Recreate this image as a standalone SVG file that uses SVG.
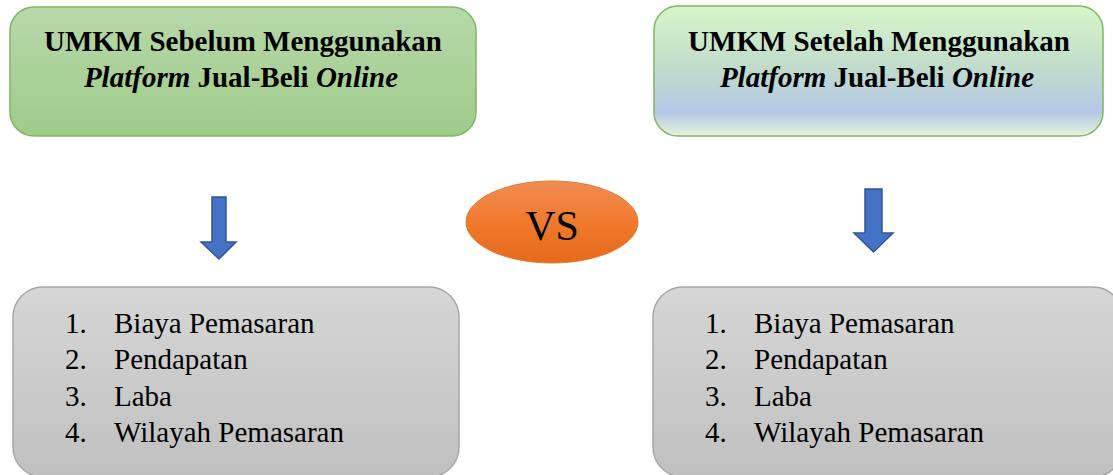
<svg xmlns="http://www.w3.org/2000/svg" width="1113" height="475" viewBox="0 0 1113 475">
<defs>
<linearGradient id="gL" x1="0" y1="0" x2="0" y2="1"><stop offset="0" stop-color="#B7D8AA"/><stop offset="1" stop-color="#9FCB88"/></linearGradient>
<linearGradient id="gR" x1="0" y1="0" x2="0" y2="1"><stop offset="0" stop-color="#D6F6C8"/><stop offset="0.45" stop-color="#C2DDCB"/><stop offset="0.82" stop-color="#B4C8E6"/><stop offset="1" stop-color="#E6F3DC"/></linearGradient>
<linearGradient id="gG" x1="0" y1="0" x2="0" y2="1"><stop offset="0" stop-color="#D6D6D6"/><stop offset="1" stop-color="#C0C0C0"/></linearGradient>
<linearGradient id="gO" x1="0" y1="0" x2="0" y2="1"><stop offset="0" stop-color="#F08C55"/><stop offset="0.5" stop-color="#F07A2C"/><stop offset="1" stop-color="#E56A1C"/></linearGradient>
</defs>
<style>
.head{font-size:29px;font-weight:bold;text-anchor:middle;fill:#000}
.it{font-style:italic}
.item{font-size:29px;fill:#000}
.top{stroke:#7DB85E;stroke-width:1.5}
.gray{fill:url(#gG);stroke:#A6A6A6;stroke-width:1.5}
.arrow{fill:#4472C4;stroke:#2F5597;stroke-width:1.5}
</style>
<g id="before" font-family="Liberation Serif">
<rect class="top" x="10" y="7" width="466" height="129" rx="24" fill="url(#gL)"/>
<text class="head" x="243" y="51">UMKM Sebelum Menggunakan</text>
<text class="head" x="241" y="87"><tspan class="it">Platform</tspan> Jual-Beli <tspan class="it">Online</tspan></text>
</g>
<g id="after" font-family="Liberation Serif">
<rect class="top" x="654" y="6" width="449" height="130" rx="24" fill="url(#gR)"/>
<text class="head" x="879" y="51">UMKM Setelah Menggunakan</text>
<text class="head" x="877" y="87"><tspan class="it">Platform</tspan> Jual-Beli <tspan class="it">Online</tspan></text>
</g>
<g id="vs" font-family="Liberation Serif">
<ellipse cx="552" cy="222" rx="86" ry="41" fill="url(#gO)" stroke="#E07A3A" stroke-width="1"/>
<text x="552" y="240" font-size="42" text-anchor="middle" fill="#000">VS</text>
</g>
<g id="connectors">
<polygon class="arrow" points="212,197 226,197 226,242 236,242 219,259 201,242 212,242"/>
<polygon class="arrow" points="865,189 882,189 882,233 893,233 873.5,252 854,233 865,233"/>
</g>
<g id="list-before" font-family="Liberation Serif">
<rect class="gray" x="13" y="287" width="446" height="190" rx="30"/>
<text class="item" x="65" y="333">1.</text><text class="item" x="114" y="333">Biaya Pemasaran</text>
<text class="item" x="65" y="369">2.</text><text class="item" x="114" y="369">Pendapatan</text>
<text class="item" x="65" y="406">3.</text><text class="item" x="114" y="406">Laba</text>
<text class="item" x="65" y="442">4.</text><text class="item" x="114" y="442">Wilayah Pemasaran</text>
</g>
<g id="list-after" font-family="Liberation Serif">
<rect class="gray" x="653" y="287" width="470" height="190" rx="30"/>
<text class="item" x="705" y="333">1.</text><text class="item" x="754" y="333">Biaya Pemasaran</text>
<text class="item" x="705" y="369">2.</text><text class="item" x="754" y="369">Pendapatan</text>
<text class="item" x="705" y="406">3.</text><text class="item" x="754" y="406">Laba</text>
<text class="item" x="705" y="442">4.</text><text class="item" x="754" y="442">Wilayah Pemasaran</text>
</g>
</svg>
